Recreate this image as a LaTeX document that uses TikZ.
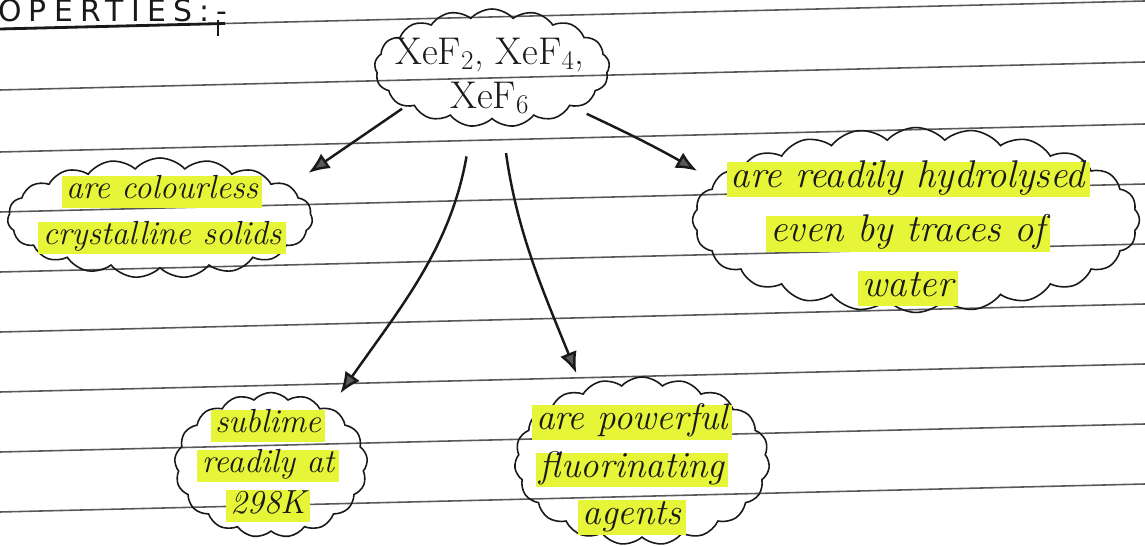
\documentclass[tikz,border=0pt]{standalone}
\usepackage{fontspec}
\newfontfamily\headfont[LetterSpace=24]{DejaVu Sans}
\usetikzlibrary{shapes.symbols,arrows.meta}
\definecolor{hlyellow}{RGB}{230,245,55}
\definecolor{ink}{RGB}{25,25,25}
% marker stroke behind a line of text
\newcommand{\hl}[1]{{\setlength{\fboxsep}{2.5pt}\colorbox{hlyellow}{\smash{#1}\rule[-0.15em]{0pt}{0.7em}}}}
\tikzset{
  puff/.style={cloud, draw=ink, line width=0.9pt, cloud ignores aspect, cloud puff arc=95, inner sep=0pt},
  lbl/.style={align=center, inner sep=0pt, text=ink, font=\itshape\fontsize{19}{26}\selectfont},
  link/.style={draw=ink, line width=1.4pt, -{Latex[length=12pt,width=10pt,fill=black!65]}},
  rule/.style={black!65, line width=0.9pt}
}

\begin{document}
\begin{tikzpicture}[x=0.02cm, y=-0.02cm]
  \useasboundingbox (0,0) rectangle (1145,546);
  % ruled page
  \foreach \y in {29,90,152,212,272,332,392,452,512}
    \draw[rule] (0,\y) -- (1145,\y-28);
  % heading
  \node[anchor=south west, inner sep=0pt, text=ink, font=\headfont\fontsize{17}{19}\selectfont] (head) at (-2,22.5) {OPERTIES:-};
  \draw[ink, line width=1.6pt] (0,29) -- (225,23.5);
  \draw[ink, line width=1pt] (218,20) -- (218,36);
  % centre cloud
  \node[puff, cloud puffs=17, minimum width=4.7cm, minimum height=2.36cm] (xef) at (492,68) {};
  \node[lbl, font=\fontsize{22}{25}\selectfont] (xef-txt) at (490,76) {XeF\textsubscript{2}, XeF\textsubscript{4},\\ XeF\textsubscript{6}};
  % properties
  \node[puff, cloud puffs=19, minimum width=6.1cm, minimum height=2.4cm] (colourless) at (160,218) {};
  \node[lbl] (colourless-txt) at (162,215) {\hl{are colourless}\\ \hl{crystalline solids}};
  \node[puff, cloud puffs=24, minimum width=8.94cm, minimum height=3.7cm] (hydro) at (916,220) {};
  \node[lbl, font=\itshape\fontsize{22}{31}\selectfont] (hydro-txt) at (908,234) {\hl{are readily hydrolysed}\\ \hl{even by traces of}\\ \hl{water}};
  \node[puff, cloud puffs=17, minimum width=3.86cm, minimum height=2.9cm] (sublime) at (271,465) {};
  \node[lbl, font=\itshape\fontsize{19}{23}\selectfont] (sublime-txt) at (268,466) {\hl{sublime}\\ \hl{readily at}\\ \hl{298K}};
  \node[puff, cloud puffs=19, minimum width=5.1cm, minimum height=3.36cm] (fluor) at (642,461) {};
  \node[lbl, font=\itshape\fontsize{21}{27}\selectfont] (fluor-txt) at (632,470) {\hl{are powerful}\\ \hl{fluorinating}\\ \hl{agents}};
  % arrows out of the centre
  \draw[link, shorten <=2pt, shorten >=0.45cm] (xef.204) -- (colourless.14);
  \draw[link, shorten <=0.6cm, shorten >=0.36cm] (xef.251) to[out=-100,in=55] (sublime.44);
  \draw[link, shorten <=0.56cm, shorten >=0.4cm] (xef.280) to[out=-82,in=112] (fluor.130);
  \draw[link, shorten <=0.35cm, shorten >=0.4cm] (xef.334) to[out=-25,in=150] (hydro.169);
\end{tikzpicture}
\end{document}
